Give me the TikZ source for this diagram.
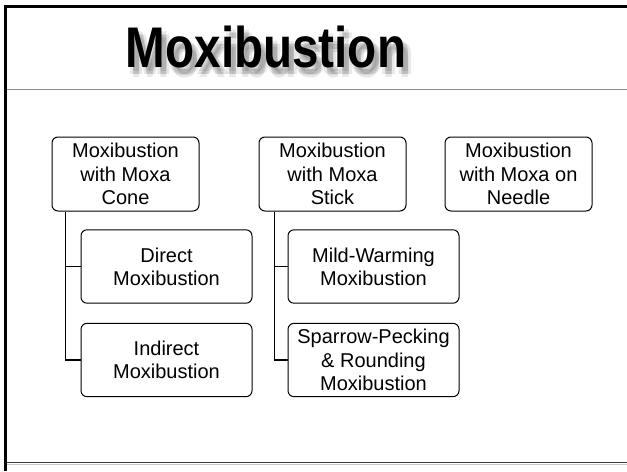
\documentclass[tikz,border=0pt]{standalone}
\usepackage{fontspec}
\setmainfont{Liberation Sans}
\tikzset{every picture/.style={line width=0.75pt}}
\tikzset{
  topbox/.style={draw, rounded corners=4.5pt, align=center, inner sep=0pt,
    minimum width=110.25pt, minimum height=55.5pt,
    font=\fontsize{15}{17.4}\selectfont},
  subbox/.style={topbox, minimum width=128.25pt, minimum height=55pt},
  branch/.style={line width=0.9pt},
  titletext/.style={anchor=base, inner sep=0pt,
    font=\fontsize{43}{43}\selectfont\bfseries}
}

\begin{document}
\begin{tikzpicture}[x=0.75pt,y=0.75pt,yscale=-1,xscale=1]
\useasboundingbox (0,0) rectangle (627,471);

%Frame
\draw [line width=2.3pt] (5.5,471) -- (5.5,6.5) -- (627,6.5) ;
\draw [color={rgb, 255:red, 140; green, 140; blue, 140 }][line width=1.1pt] (7,89.3) -- (627,89.3) ;
\draw [color={rgb, 255:red, 200; green, 200; blue, 200 }][line width=0.75pt] (7,464.3) -- (627,464.3) ;
\draw [color={rgb, 255:red, 60; green, 60; blue, 60 }][line width=1.1pt] (7,462.7) -- (627,462.7) ;

% Title shadow (soft)
\foreach \dx/\dy in {-3/0,3/0,0/-3,0/3,0/0}
  \node [titletext, text=black, opacity=0.09] at (271+\dx,74+\dy) {\scalebox{0.83}[1]{Moxibustion}};
% Title
\node (title) [titletext] at (266,67) {\scalebox{0.83}[1]{Moxibustion}};

% Top level
\node (cone) [topbox] at (125.5,174) {Moxibustion\\with Moxa\\Cone};
\node (stick) [topbox] at (332.5,174) {Moxibustion\\with Moxa\\Stick};
\node (needle) [topbox] at (518.5,174) {Moxibustion\\with Moxa on\\Needle};

% Second level
\node (direct) [subbox] at (166.5,266.5) {Direct\\Moxibustion};
\node (indirect) [subbox] at (166.5,360) {Indirect\\Moxibustion};
\node (mild) [subbox] at (373.5,266.5) {Mild-Warming\\Moxibustion};
\node (sparrow) [subbox] at (373.5,360) {Sparrow-Pecking\\\& Rounding\\Moxibustion};

% Branches
\draw [branch] ([xshift=10.5pt]cone.south west) |- (direct.west) ;
\draw [branch] ([xshift=10.5pt]cone.south west) |- (indirect.west) ;
\draw [branch] ([xshift=12pt]stick.south west) |- (mild.west) ;
\draw [branch] ([xshift=12pt]stick.south west) |- (sparrow.west) ;

\end{tikzpicture}
\end{document}
